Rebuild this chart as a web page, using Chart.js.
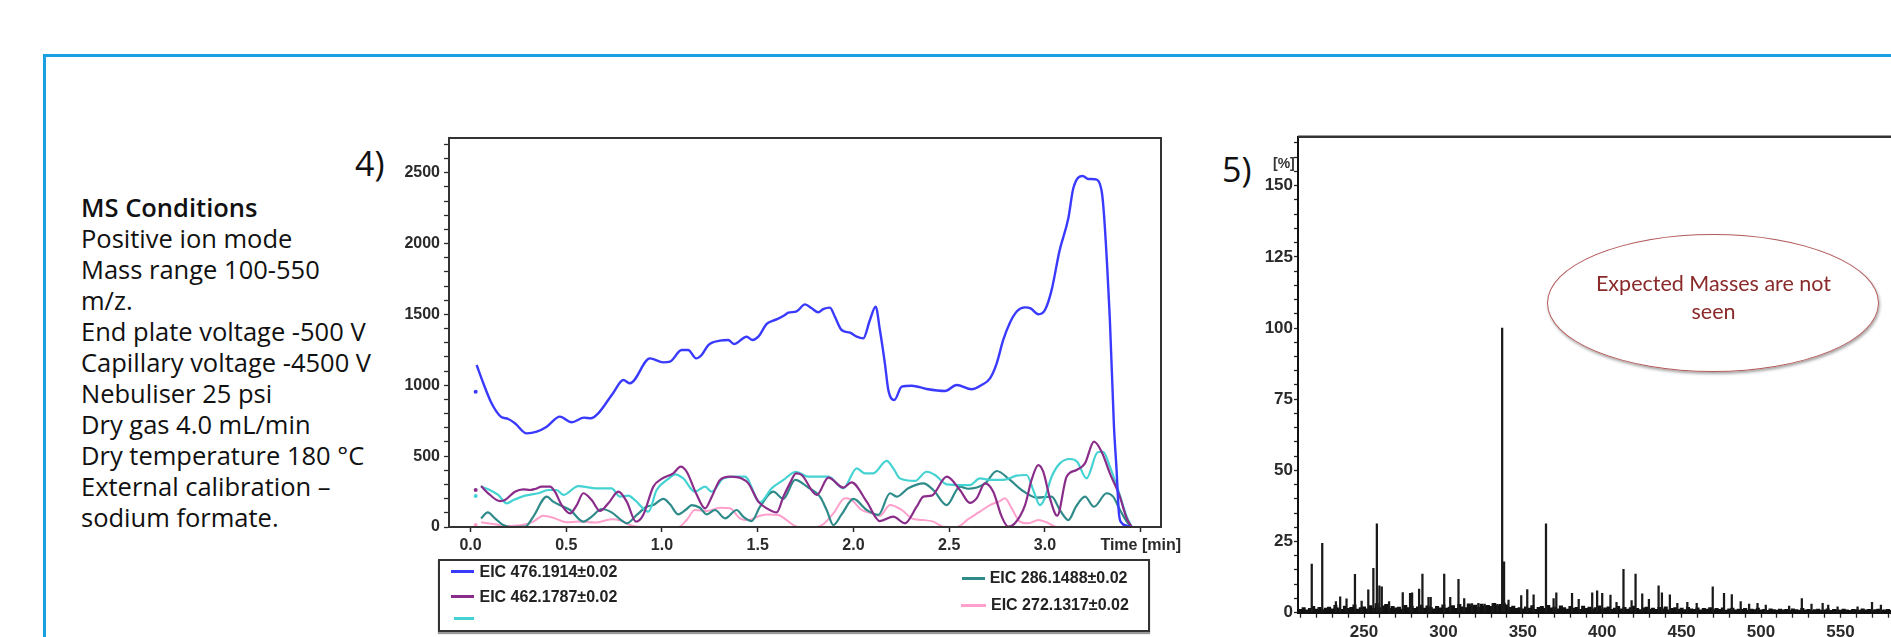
<!DOCTYPE html>
<html><head><meta charset="utf-8">
<script src="https://cdn.jsdelivr.net/npm/chart.js@4.4.1/dist/chart.umd.min.js"></script>
<style>
html,body{margin:0;padding:0;background:#fff;}
body{width:1891px;height:637px;overflow:hidden;position:relative;font-family:'Open Sans','Noto Sans',sans-serif;}
#frame{position:absolute;left:42.5px;top:54px;width:2000px;height:800px;border-left:3px solid #1a9fe0;border-top:3px solid #1a9fe0;}
#conds{position:absolute;left:81px;top:191.5px;font-size:25.5px;line-height:31px;color:#111;white-space:nowrap;}
#conds .h{font-weight:600;}
.plabel{position:absolute;font-size:34px;line-height:34px;color:#111;}
#c4{position:absolute;left:370px;top:120px;}
#c5{position:absolute;left:1200px;top:120px;}
#legend{position:absolute;left:438px;top:559px;width:708px;height:69px;border:2px solid #333;box-shadow:0 2px 1px #999;}
.li{position:absolute;font:bold 16px 'Liberation Sans',Arial,sans-serif;line-height:20px;color:#222;white-space:nowrap;}
.sw{position:absolute;height:3px;}
#pct{position:absolute;left:1273px;top:155px;font:bold 14px 'Liberation Sans',Arial,sans-serif;line-height:16px;color:#333;}
#ell{position:absolute;left:1547px;top:234px;width:330px;height:136px;border:1.5px solid #b35a5a;border-radius:50%;box-shadow:1px 2px 3px rgba(0,0,0,0.35);}
#elltxt{position:absolute;left:1547px;top:268.6px;width:333px;text-align:center;font-family:Lato,'Open Sans',sans-serif;font-size:21.5px;line-height:28.7px;color:#8b2a2a;}
</style></head>
<body>
<div id="frame"></div>
<div id="conds"></div>
<div class="plabel" style="left:355px;top:145.7px;">4)</div>
<div class="plabel" style="left:1222px;top:151.7px;">5)</div>
<canvas id="c4" width="820" height="450"></canvas>
<canvas id="c5" width="760" height="540"></canvas>
<div id="legend"></div>
<div id="pct">[%]</div>
<div id="ell"></div>
<div id="elltxt">Expected Masses are not<br>seen</div>
<script>
// ---------------- text ----------------
const conditionsTitle = 'MS Conditions';
const conditionsLines = ['Positive ion mode','Mass range 100-550','m/z.','End plate voltage -500 V','Capillary voltage -4500 V','Nebuliser 25 psi','Dry gas 4.0 mL/min','Dry temperature 180 °C','External calibration –','sodium formate.'];

// ---------------- chart 4 data (time [min], intensity) ----------------
const dotTime = 0.027;
const blueLabel = 'EIC 476.1914±0.02';
const bluePts = [[0.032,1143],[0.067,1014],[0.11,873],[0.158,779],[0.197,762],[0.232,732],[0.293,661],[0.346,673],[0.398,708],[0.467,779],[0.528,739],[0.593,772],[0.628,767],[0.667,802],[0.746,948],[0.798,1037],[0.833,1014],[0.937,1190],[1.007,1162],[1.042,1167],[1.103,1249],[1.137,1249],[1.178,1190],[1.207,1214],[1.242,1284],[1.303,1315],[1.346,1320],[1.376,1291],[1.442,1343],[1.473,1320],[1.503,1343],[1.547,1433],[1.581,1456],[1.607,1470],[1.642,1496],[1.66,1512],[1.703,1522],[1.747,1571],[1.782,1543],[1.816,1515],[1.842,1538],[1.877,1548],[1.903,1484],[1.938,1390],[1.982,1371],[2.017,1343],[2.051,1331],[2.086,1461],[2.116,1555],[2.138,1390],[2.164,1155],[2.182,967],[2.213,896],[2.252,990],[2.304,997],[2.382,974],[2.478,960],[2.539,1002],[2.617,972],[2.669,1002],[2.713,1049],[2.748,1155],[2.782,1320],[2.817,1442],[2.855,1524],[2.896,1550],[2.925,1543],[2.965,1501],[3.0,1531],[3.035,1673],[3.075,1943],[3.122,2178],[3.148,2390],[3.197,2477],[3.226,2456],[3.261,2454],[3.296,2371],[3.339,1461],[3.36,720],[3.374,402],[3.386,100],[3.40,30],[3.43,8],[3.45,0]];
const blueDot = 955;

const purpleLabel = 'EIC 462.1787±0.02';
const purplePts = [[0.055,289],[0.102,226],[0.154,183],[0.18,190],[0.232,249],[0.276,266],[0.311,261],[0.337,268],[0.372,285],[0.415,285],[0.441,249],[0.476,155],[0.52,96],[0.555,155],[0.589,238],[0.633,190],[0.676,113],[0.72,167],[0.772,249],[0.816,179],[0.864,38],[0.902,85],[0.955,285],[0.998,339],[1.059,379],[1.098,426],[1.129,390],[1.178,238],[1.225,132],[1.26,214],[1.303,332],[1.355,355],[1.416,343],[1.451,308],[1.503,179],[1.547,132],[1.599,103],[1.634,214],[1.668,308],[1.70,379],[1.73,367],[1.808,226],[1.869,348],[1.947,278],[1.99,315],[2.069,179],[2.138,42],[2.208,73],[2.269,26],[2.33,143],[2.365,214],[2.408,221],[2.487,355],[2.556,261],[2.608,170],[2.643,202],[2.687,308],[2.73,249],[2.774,73],[2.808,2],[2.843,26],[2.896,155],[2.93,332],[2.965,437],[2.991,390],[3.026,202],[3.064,80],[3.113,355],[3.165,402],[3.209,449],[3.256,602],[3.296,531],[3.339,379],[3.388,226],[3.427,61],[3.453,0]];
const purpleDot = 261;

const cyanLabel = '';
const cyanPts = [[0.055,285],[0.093,266],[0.145,226],[0.189,167],[0.224,190],[0.285,221],[0.354,238],[0.406,261],[0.45,261],[0.485,226],[0.563,289],[0.65,273],[0.737,273],[0.78,215],[0.824,221],[0.859,190],[0.929,108],[0.972,261],[1.033,339],[1.068,372],[1.111,343],[1.172,249],[1.225,285],[1.26,249],[1.32,343],[1.381,355],[1.433,355],[1.512,174],[1.573,273],[1.634,332],[1.70,390],[1.764,355],[1.869,355],[1.947,273],[2.017,414],[2.06,379],[2.103,379],[2.173,466],[2.208,414],[2.243,343],[2.321,325],[2.382,390],[2.426,367],[2.487,301],[2.565,296],[2.608,296],[2.66,343],[2.713,332],[2.782,332],[2.852,362],[2.904,367],[2.942,249],[2.974,155],[2.995,190],[3.035,355],[3.078,449],[3.13,480],[3.168,461],[3.217,343],[3.275,527],[3.304,531],[3.339,426],[3.388,238],[3.427,73],[3.453,0]];
const cyanDot = 219;

const tealLabel = 'EIC 286.1488±0.02';
const tealPts = [[0.055,61],[0.09,103],[0.128,61],[0.171,14],[0.215,0],[0.285,2],[0.328,73],[0.398,214],[0.432,179],[0.476,148],[0.52,120],[0.589,38],[0.633,73],[0.685,127],[0.737,103],[0.79,45],[0.816,26],[0.868,85],[0.92,143],[0.955,155],[1.007,198],[1.042,160],[1.085,89],[1.129,127],[1.155,155],[1.198,136],[1.234,89],[1.277,120],[1.329,61],[1.39,120],[1.424,73],[1.468,42],[1.512,143],[1.581,249],[1.634,198],[1.695,332],[1.764,278],[1.825,214],[1.86,120],[1.895,14],[1.938,89],[2.0,198],[2.069,120],[2.13,85],[2.191,238],[2.225,214],[2.286,273],[2.365,308],[2.417,261],[2.487,155],[2.556,285],[2.599,270],[2.687,308],[2.748,395],[2.817,332],[2.878,261],[2.956,207],[3.035,214],[3.078,120],[3.122,49],[3.162,143],[3.209,214],[3.256,143],[3.322,238],[3.356,214],[3.392,120],[3.427,38],[3.453,0]];

const pinkLabel = 'EIC 272.1317±0.02';
const pinkPts = [[0.055,33],[0.128,19],[0.18,7],[0.267,14],[0.328,38],[0.38,80],[0.441,61],[0.502,33],[0.563,38],[0.65,31],[0.737,54],[0.785,45],[0.833,14],[0.885,0],[1.085,0],[1.129,49],[1.172,120],[1.234,113],[1.303,136],[1.355,132],[1.407,61],[1.451,49],[1.512,80],[1.555,89],[1.607,85],[1.651,49],[1.686,14],[1.72,0],[1.81,0],[1.842,19],[1.895,96],[1.956,202],[1.982,198],[2.043,120],[2.095,96],[2.138,80],[2.191,155],[2.252,120],[2.312,56],[2.365,49],[2.417,38],[2.469,2],[2.539,0],[2.599,55],[2.66,108],[2.713,155],[2.765,183],[2.791,202],[2.826,132],[2.869,38],[2.913,26],[2.965,49],[3.009,33],[3.061,0],[3.45,0]];
const pinkDot = 14;

const timeTicks = [0,0.5,1,1.5,2,2.5,3];
const timeAxisTitle = 'Time [min]';
const timeTitleAt = 3.5;
const intensityTicks = [0,500,1000,1500,2000,2500];

// ---------------- chart 5 data (m/z, %) ----------------
const peakMz  = [217.1,223.7,232.3,235,239,244.3,248.5,252.7,255.9,258.1,259.7,261.2,265.8,274.4,279,280.3,284.7,286.8,290.6,292,300.5,304.3,309.5,313.1,318,322,326,331,334,337,338.2,341,349,352.8,356.8,364.6,369.4,371.1,381,385.2,393.7,396.8,400,405.2,409,413.4,418.5,421,425.2,429.4,435.5,437.6,442.6,447.3,453.6,459.5,469.6,476.7,481.6,487.2,492.5,497.8,503,517.7,525.7,531.8,538.8,542.3,548.2,560.8,569.9,575.5];
const peakPct = [17.1,24.4,3.9,5.6,4.9,13.5,4.1,8,15.6,31.2,9.4,9.1,3.9,7.1,6.8,7,8.3,13.6,5.4,5.4,13.6,5.4,11.7,5.0,3.2,3.3,3.0,3.2,2.9,100,17.9,4.4,6,8.1,6.3,31.2,5,7,6.8,4.7,7.0,7.7,6.8,6.2,3.6,15.2,4.3,13.6,6.6,4.7,9.4,7,6.3,3.3,3.6,3.3,9.1,6.8,6.4,3.9,3.0,3.3,2.7,2.3,5.0,3.0,3.3,2.7,2.1,2.1,3.6,2.7];
const noiseStartMz = 210, noiseStepMz = 2;
const noisePct = [
1.2,1.8,1.0,1.5,2.2,1.3,1.9,1.1,1.6,2.0,
1.4,2.6,1.7,1.2,2.3,1.5,1.9,2.8,1.3,1.8,
2.1,1.4,2.5,1.6,3.2,1.8,2.4,2.9,1.5,2.2,
1.7,2.0,1.3,2.6,1.8,2.3,1.5,2.1,2.7,1.6,
2.4,1.9,1.4,2.2,1.7,2.8,1.6,2.0,2.5,1.5,
2.9,2.1,1.8,3.1,2.4,2.7,1.9,3.0,2.3,2.6,
2.2,3.3,2.5,2.9,3.4,2.8,1.9,2.3,1.5,1.8,
1.4,2.1,1.6,2.5,1.2,1.9,2.2,1.5,2.6,1.7,
2.0,1.4,2.4,1.8,1.3,2.2,1.6,1.9,1.2,2.3,
1.5,2.0,1.4,1.8,2.4,1.3,1.7,2.1,1.2,1.6,
2.2,1.4,1.9,1.3,1.8,2.3,1.5,1.1,1.7,2.0,
1.3,1.6,1.2,1.9,1.4,2.1,1.0,1.5,1.8,1.2,
1.6,1.1,1.9,1.4,1.2,1.7,1.0,1.5,1.3,1.8,
1.1,1.5,1.2,1.7,0.9,1.4,1.6,1.0,1.3,1.2,
1.5,0.9,1.3,1.1,1.6,1.0,1.2,0.8,1.4,1.1,
0.9,1.3,1.0,1.2,0.8,1.4,1.1,0.9,1.5,1.0,
1.2,0.8,1.1,1.3,0.9,1.0,1.4,0.8,1.2,1.0,
0.9,1.3,1.0,0.8,1.2,1.1,0.9,1.4,1.0,1.2,
0.8,1.1,1.3,0.9,1.0,1.2,0.8,1.1,0.9,1.2,
1.0,0.9,1.1,1.0,0.8,1.2,1.0,0.9,1.1,1.0];
const mzTicks = [250,300,350,400,450,500,550,600];
const pctTicks = [0,25,50,75,100,125,150];

// ---------------- page text ----------------
const conds = document.getElementById('conds');
conds.innerHTML = '<div class="h">'+conditionsTitle+'</div>' + conditionsLines.map(l=>'<div>'+l+'</div>').join('');

function hasFont(name){
  const c=document.createElement('canvas').getContext('2d');
  const t='0123456789 abcdefXYZ';
  c.font='40px monospace'; const b=c.measureText(t).width;
  c.font="40px '"+name+"', monospace"; const a=c.measureText(t).width;
  return Math.abs(a-b)>0.5;
}
let narrowFam = "'Liberation Sans', Arial, sans-serif", narrowSize = 17;
if (hasFont('Liberation Sans Narrow')) { narrowFam = "'Liberation Sans Narrow', sans-serif"; narrowSize = 20; }
else if (hasFont('Arial Narrow')) { narrowFam = "'Arial Narrow', sans-serif"; narrowSize = 20; }

const sansFam = "'Liberation Sans', Arial, sans-serif";
const axisCol = '#2a2a2a';

const boxPlugin = {
  id:'box',
  afterDraw(chart, args, opts){
    const a = chart.chartArea, ctx = chart.ctx;
    ctx.save(); ctx.strokeStyle = opts.color || '#333'; ctx.lineWidth = opts.width || 2;
    ctx.beginPath();
    if (opts.full) { ctx.rect(a.left, a.top, a.right-a.left, a.bottom-a.top); }
    else { ctx.moveTo(a.left, a.top); ctx.lineTo(a.right, a.top); }
    ctx.stroke(); ctx.restore();
  }
};

// ---------------- chart 4 ----------------
const series4 = [
  {label: blueLabel,   pts: bluePts,   dot: blueDot,   color:'#3a3aff', w:2.4},
  {label: purpleLabel, pts: purplePts, dot: purpleDot, color:'#8a2d8a', w:2.2},
  {label: cyanLabel,   pts: cyanPts,   dot: cyanDot,   color:'#45d2d2', w:2.2},
  {label: tealLabel,   pts: tealPts,   dot: null,      color:'#2f8a8a', w:2.2},
  {label: pinkLabel,   pts: pinkPts,   dot: pinkDot,   color:'#ff9fcb', w:2.0}
];
const near = (arr, v) => arr.some(t => Math.abs(t - v) < 1e-6);

const chart4 = new Chart(document.getElementById('c4'), {
  type:'line',
  data:{ datasets: series4.map(s => ({
    label: s.label,
    data: [ ...(s.dot!=null ? [{x:dotTime,y:s.dot},{x:dotTime+0.002,y:null}] : []),
            ...s.pts.map(p => ({x:p[0], y:p[1]})) ],
    borderColor: s.color, backgroundColor: s.color, borderWidth: s.w,
    pointRadius: ctx => (s.dot!=null && ctx.dataIndex===0) ? 2 : 0,
    pointBorderWidth: 0, pointHoverRadius: 0,
    cubicInterpolationMode:'monotone', spanGaps:false, fill:false
  }))},
  options:{
    responsive:false, animation:false, devicePixelRatio:1,
    layout:{padding:{top:18, right:29, left:0, bottom:0}},
    plugins:{legend:{display:false}, tooltip:{enabled:false}, box:{full:true, color:'#333', width:2}},
    scales:{
      x:{ type:'linear', min:-0.1123, max:3.606,
        afterFit: s => { s.height = 43; },
        border:{display:true, color:axisCol, width:2},
        grid:{drawOnChartArea:false, drawTicks:true, tickLength:5, color:axisCol, tickWidth:1.5},
        ticks:{ stepSize:0.5, includeBounds:false, autoSkip:false, maxRotation:0, padding:4, color:axisCol,
          font:{family:sansFam, size:16, weight:'bold'},
          callback: v => Math.abs(v - timeTitleAt) < 1e-6 ? timeAxisTitle : (near(timeTicks, v) ? v.toFixed(1) : '') }
      },
      y:{ type:'linear', min:0, max:2745,
        afterFit: s => { s.width = 79; },
        border:{display:true, color:axisCol, width:2},
        grid:{drawOnChartArea:false, drawTicks:true, tickLength:5, color:axisCol, tickWidth:1.3},
        ticks:{ stepSize:100, includeBounds:false, autoSkip:false, padding:4, color:axisCol,
          font:{family:sansFam, size:16, weight:'bold'},
          callback: v => near(intensityTicks, v) ? String(v) : '' }
      }
    }
  },
  plugins:[boxPlugin]
});

// legend (HTML, built from the chart's datasets)
const legendPos = [
  {sx:451, sw:23, y:571.7, tx:479.5},
  {sx:451, sw:23, y:596.7, tx:479.5},
  {sx:454, sw:20, y:618.3, tx:479.5},
  {sx:961.6, sw:23, y:578.3, tx:989.7},
  {sx:960.6, sw:25, y:605, tx:991}
];
chart4.data.datasets.forEach((d, i) => {
  const p = legendPos[i];
  const sw = document.createElement('div'); sw.className='sw';
  sw.style.cssText = `left:${p.sx}px;top:${p.y-1.5}px;width:${p.sw}px;background:${d.borderColor};`;
  document.body.appendChild(sw);
  if (d.label) {
    const t = document.createElement('div'); t.className='li';
    t.style.cssText = `left:${p.tx}px;top:${p.y-10}px;`;
    t.textContent = d.label; document.body.appendChild(t);
  }
});

// ---------------- chart 5 ----------------
const noiseData = noisePct.map((v, i) => ({x: noiseStartMz + i*noiseStepMz, y: v}));
const peakData = peakMz.map((m, i) => ({x: m, y: peakPct[i]}));

new Chart(document.getElementById('c5'), {
  type:'bar',
  data:{ datasets:[
    {label:'peaks', data: peakData, backgroundColor:'#1a1a1a', barThickness:1.6, grouped:false, order:0},
    {label:'noise', data: noiseData, backgroundColor:'#111', barThickness:3.4, grouped:false, order:1}
  ]},
  options:{
    responsive:false, animation:false, devicePixelRatio:1,
    layout:{padding:{top:16.7, right:10, left:0, bottom:0}},
    plugins:{legend:{display:false}, tooltip:{enabled:false}, box:{full:false, color:'#333', width:2.5}},
    scales:{
      x:{ type:'linear', min:208.44, max:619, offset:false,
        afterFit: s => { s.height = 47.3; },
        border:{display:true, color:'#111', width:2},
        grid:{offset:false, drawOnChartArea:false, drawTicks:true, tickLength:5, color:'#222', tickWidth:1.3},
        ticks:{ stepSize:10, includeBounds:false, autoSkip:false, maxRotation:0, padding:4, color:'#2a2a2a',
          font:{family:narrowFam, size:narrowSize, weight:'bold'},
          callback: v => near(mzTicks, v) ? String(v) : '' }
      },
      y:{ type:'linear', min:0, max:167.2,
        afterFit: s => { s.width = 98; },
        border:{display:true, color:'#111', width:2},
        grid:{drawOnChartArea:false, drawTicks:true, tickLength:4, color:'#222', tickWidth:1.3},
        ticks:{ stepSize:5, includeBounds:false, autoSkip:false, padding:1, color:'#2a2a2a',
          font:{family:narrowFam, size:narrowSize, weight:'bold'},
          callback: v => near(pctTicks, v) ? String(v) : '' }
      }
    }
  },
  plugins:[boxPlugin]
});
</script>
</body></html>
